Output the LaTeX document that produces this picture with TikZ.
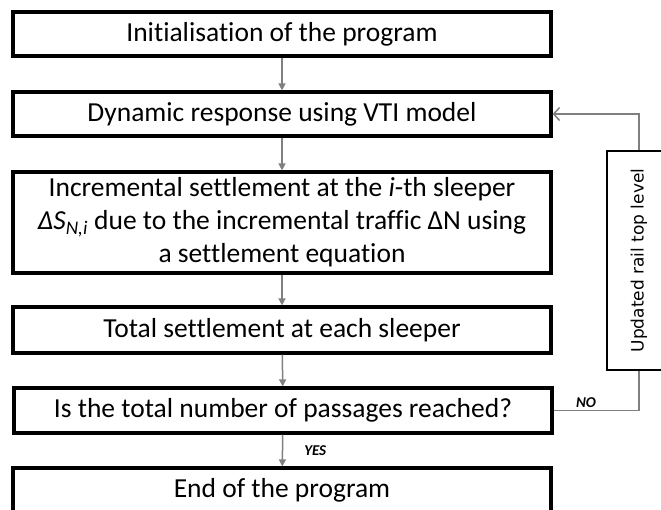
\documentclass[tikz,border=0pt]{standalone}
\usepackage{fontspec}
\setmainfont{Carlito}[Ligatures={NoCommon}]
\newfontfamily\sidefont{DejaVu Sans}
\usetikzlibrary{arrows.meta}
\definecolor{linegray}{RGB}{128,128,128}
\tikzset{
  stepbox/.style={draw=black, line width=3.2pt, minimum width=538pt, inner sep=0pt, align=center, font=\fontsize{27.5}{33}\selectfont},
  sidebox/.style={draw=black, line width=1.6pt, minimum width=64pt, minimum height=219pt, inner sep=0pt},
  flow/.style={draw=linegray, line width=1.5pt, -{Triangle[length=7pt,width=7pt]}},
  back/.style={draw=linegray, line width=1.5pt, -{Straight Barb[length=6pt,width=13pt,line width=1.5pt]}},
  plain/.style={draw=linegray, line width=1.5pt},
  lbl/.style={font=\fontsize{15}{17}\selectfont\bfseries\itshape, inner sep=1pt}
}
\begin{document}
\begin{tikzpicture}[x=1pt,y=-1pt]
\useasboundingbox (0,0) rectangle (661,509);
\node[stepbox, minimum height=44pt] (b1) at (282,34) {Initialisation of the program};
\node[stepbox, minimum height=44pt] (b2) at (282,114) {Dynamic response using VTI model};
\node[stepbox, minimum height=101pt] (b3) at (282,222.5) {Incremental settlement at the \textit{i}-th sleeper\\{\itshape ΔS\textsubscript{N,i}} due to the incremental traffic ΔN using\\a settlement equation};
\node[stepbox, minimum height=46pt] (b4) at (282,330) {Total settlement at each sleeper};
\node[stepbox, minimum height=45pt] (b5) at (283,410.5) {Is the total number of passages reached?};
\node[stepbox, minimum height=45pt] (b6) at (282,490.5) {End of the program};
\node[sidebox] (side) at (639,260.5) {};
\node[rotate=90, font=\sidefont\fontsize{17}{20}\selectfont] (sidetxt) at (side.center) {Updated rail top level};
\coordinate (lp) at (639,115);
\draw[flow] (b1) -- (b2);
\draw[flow] (b2) -- (b3);
\draw[flow] (b3) -- (b4);
\draw[flow] (b4) -- (b5);
\draw[flow] (b5) -- node[lbl, right=20pt, pos=0.5] (yes) {YES} (b6);
\draw[back] (side.north -| lp) |- (b2.east);
\draw[plain] (b5.east) -| node[lbl, above=1pt, pos=0.19] (no) {NO} (side.south -| lp);
\end{tikzpicture}
\end{document}
